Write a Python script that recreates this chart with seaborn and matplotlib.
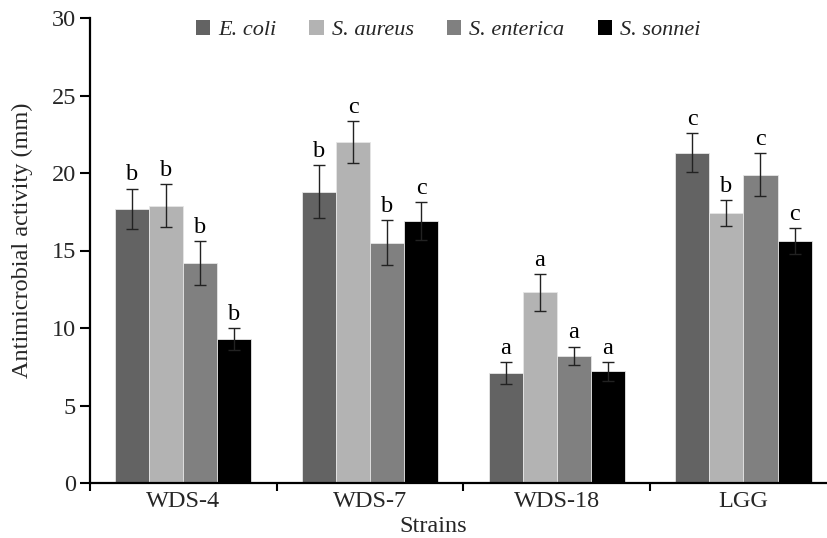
import matplotlib
matplotlib.use("Agg")
import matplotlib.pyplot as plt
import seaborn as sns
import pandas as pd
import numpy as np
from matplotlib.patches import Patch

strains = ["WDS-4", "WDS-7", "WDS-18", "LGG"]
pathogens = ["E. coli", "S. aureus", "S. enterica", "S. sonnei"]
ecoli = [17.7, 18.8, 7.1, 21.3]
saureus = [17.9, 22.0, 12.3, 17.4]
senterica = [14.2, 15.5, 8.2, 19.9]
ssonnei = [9.3, 16.9, 7.2, 15.6]
ecoli_err = [1.3, 1.7, 0.7, 1.25]
saureus_err = [1.4, 1.35, 1.2, 0.85]
senterica_err = [1.4, 1.45, 0.6, 1.4]
ssonnei_err = [0.7, 1.25, 0.6, 0.85]
ecoli_lab = ["b", "b", "a", "c"]
saureus_lab = ["b", "c", "a", "b"]
senterica_lab = ["b", "b", "a", "c"]
ssonnei_lab = ["b", "c", "a", "c"]

values = [ecoli, saureus, senterica, ssonnei]
errs = [ecoli_err, saureus_err, senterica_err, ssonnei_err]
labs = [ecoli_lab, saureus_lab, senterica_lab, ssonnei_lab]
colors = ["#636363", "#b3b3b3", "#808080", "#000000"]

rows = []
for p, vals in zip(pathogens, values):
    for s, v in zip(strains, vals):
        rows.append({"Strain": s, "Pathogen": p, "Value": v})
df = pd.DataFrame(rows)

sns.set_style("white")
plt.rcParams["font.family"] = ["Liberation Serif", "DejaVu Serif"]

fig = plt.figure(figsize=(8.28, 5.38), dpi=100)
ax = fig.add_axes([90/828, 1-483/538, 1-90/828, (483-18)/538])

sns.barplot(data=df, x="Strain", y="Value", hue="Pathogen", order=strains,
            hue_order=pathogens, palette=colors, width=0.73, ax=ax,
            edgecolor="#e6e6e6", linewidth=0.6, legend=False, errorbar=None)

bar_containers = list(ax.containers)
for ci, cont in enumerate(bar_containers):
    for bi, bar in enumerate(cont.patches):
        xc = bar.get_x() + bar.get_width()/2
        v = values[ci][bi]
        e = errs[ci][bi]
        ax.errorbar(xc, v, yerr=e, fmt="none", ecolor="#222222", elinewidth=1.0,
                    capsize=4.3, capthick=1.0, zorder=5)
        ax.text(xc, v + e + 0.2, labs[ci][bi], ha="center", va="bottom",
                fontsize=17.5, color="black")

ax.set_ylim(0, 30)
ax.set_xlim(-0.5, (828-90)/186.7 - 0.5)
ax.set_yticks([0, 5, 10, 15, 20, 25, 30])
ax.set_xticks([-0.5, 0.5, 1.5, 2.5])
ax.set_xticklabels([])
ax.set_xticks([0, 1, 2, 3], minor=True)
ax.set_xticklabels(strains, minor=True, fontsize=17.5)
ax.tick_params(axis="x", which="major", direction="out", length=6, width=1.5, color="black", bottom=True)
ax.tick_params(axis="x", which="minor", length=0, pad=6)
ax.tick_params(axis="y", direction="out", length=7, width=1.5, color="black", labelsize=17.5, left=True, pad=3)
for sp in ["top", "right"]:
    ax.spines[sp].set_visible(False)
for sp in ["left", "bottom"]:
    ax.spines[sp].set_linewidth(1.6)
    ax.spines[sp].set_color("black")
ax.set_xlabel("")
ax.set_ylabel("")
fig.text(22/828, 1-240/538, "Antimicrobial activity (mm)", ha="center", va="center",
         rotation=90, fontsize=17.5)
fig.text(433/828, 1-526/538, "Strains", ha="center", va="center", fontsize=17.5)

handles = [Patch(facecolor=c, edgecolor="none") for c in colors]
leg = fig.legend(handles, pathogens, loc="center", bbox_to_anchor=(448/828, 1-30/538),
                 ncol=4, frameon=False, handlelength=0.65, handleheight=0.65,
                 handletextpad=0.35, columnspacing=1.5,
                 prop={"style": "italic", "size": 16, "family": "Liberation Serif"})

fig.savefig("out.png", dpi=100)
